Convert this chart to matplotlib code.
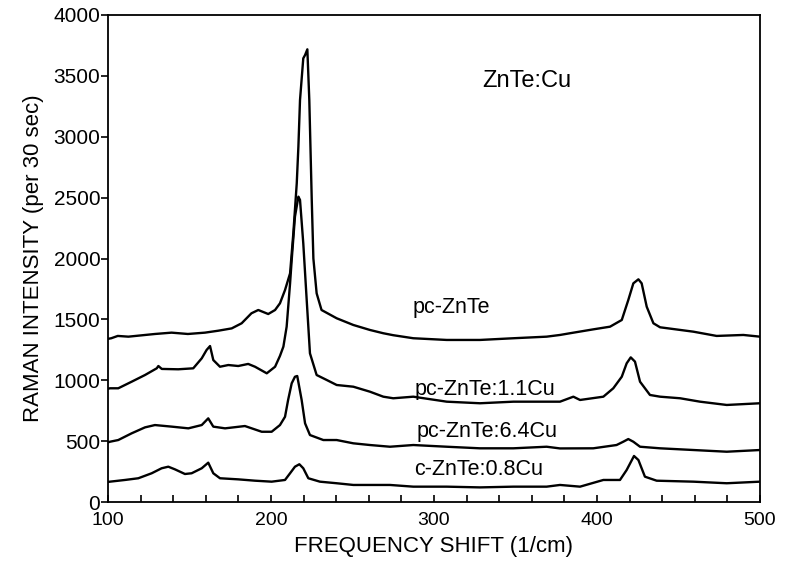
import matplotlib
matplotlib.use("Agg")
import matplotlib.pyplot as plt
from matplotlib.ticker import MultipleLocator

plt.rcParams['font.family'] = ['Liberation Sans', 'DejaVu Sans']

# Raman spectra of ZnTe:Cu films (frequency shift in 1/cm, counts per 30 s)
x_pc = [100, 102, 106, 112.5, 128.8, 139, 149, 159.5, 167.7, 175.9, 182, 188, 192.2,
        198.3, 202.5, 205.5, 208.6, 211.7, 213.7, 215.8, 216.8, 217.8, 219.8, 220.9,
        222.3, 223.5, 225, 226, 228, 231, 240.3, 250.5, 260.7, 268.9, 275, 287.3,
        307.8, 328.2, 348.7, 369.1, 377.3, 383.4, 397.7, 408, 415.2, 419.2, 422.3,
        425.4, 427.4, 430.5, 434.6, 438.7, 459.1, 473.4, 489.8, 500]
y_pc = [1340, 1345, 1364, 1358, 1380, 1391, 1380, 1391, 1407, 1426, 1468, 1550, 1577,
        1544, 1577, 1632, 1741, 1878, 2207, 2618, 2918, 3302, 3644, 3671,
        3718, 3302, 2481, 2000, 1714, 1577, 1509, 1454, 1413, 1386, 1370, 1345,
        1331, 1331, 1345, 1358, 1372, 1386, 1418, 1440, 1495, 1659, 1796,
        1829, 1796, 1604, 1468, 1435, 1399, 1364, 1372, 1358]

x_cu11 = [100, 101.2, 106.3, 114.5, 122.7, 129.9, 130.9, 133, 143.1, 152.3, 157.5, 160.5,
          162.6, 164.6, 168.7, 173.8, 179.9, 186, 190.2, 197.4, 202.5, 205.5, 207.6,
          209.6, 211.7, 212.7, 214.7, 216.8, 217.8, 219.8, 221.9, 223.9, 228, 234.2,
          240.3, 250.5, 260.7, 268.9, 275, 287.3, 307.8, 328.2, 348.7, 369.1, 377.3,
          385.5, 389.6, 403.9, 410, 415.2, 418.2, 420.7, 423.3, 426.4, 432.5, 438.7,
          451, 463.2, 479.6, 500]
y_cu11 = [930, 934, 934, 988, 1043, 1098, 1117, 1093, 1090, 1098, 1180, 1249,
          1281, 1166, 1111, 1125, 1117, 1134, 1111, 1057, 1111, 1200, 1276,
          1440, 1796, 1988, 2344, 2508, 2481, 2125, 1659, 1221, 1043, 1002,
          961, 947, 906, 865, 852, 865, 824, 811, 824, 824, 824,
          865, 838, 865, 934, 1029, 1139, 1188, 1153, 988, 879, 865,
          852, 824, 797, 811]

x_cu64 = [100, 101.2, 106.3, 114.5, 122.7, 128.8, 139.1, 149.3, 157.5, 161.5, 164.6,
          171.8, 184, 194.3, 200.4, 205.5, 208.6, 210.5, 212.7, 214.7, 216.1, 218.8,
          220.9, 223.9, 232.1, 240.3, 250.5, 260.7, 273, 287.3, 307.8, 328.2, 348.7,
          369.1, 377.3, 397.7, 412, 416.1, 419.2, 422.3, 426.4, 438.7, 459.1, 479.6, 500]
y_cu64 = [490, 495, 509, 564, 613, 632, 619, 605, 632, 687, 619,
          605, 624, 577, 577, 632, 700, 838, 975, 1029, 1035, 838,
          646, 550, 509, 509, 482, 468, 454, 468, 454, 441, 441,
          454, 440, 441, 468, 495, 517, 495, 454, 441, 427, 413, 427]

x_c08 = [100, 101.2, 110.4, 118.6, 126.8, 132.9, 137, 141.1, 147.2, 151.3, 157.5, 161.5,
         164.6, 168.7, 179.9, 190.2, 200.4, 208.6, 211.7, 214.7, 217.4, 219.8, 222.9,
         230, 240.3, 250.5, 260.7, 273, 287.3, 307.8, 328.2, 348.7, 369.1, 377.3, 389.6,
         403.9, 414.1, 418.2, 422.7, 425.4, 429.4, 436.6, 459.1, 479.6, 500]
y_c08 = [165, 167, 181, 195, 236, 277, 290, 268, 230, 236, 277, 323,
         236, 195, 186, 175, 167, 181, 236, 290, 310, 277, 195,
         167, 154, 140, 140, 140, 126, 126, 120, 126, 126, 140, 126,
         181, 181, 263, 378, 345, 208, 175, 167, 154, 167]

series = [(x_pc, y_pc), (x_cu11, y_cu11), (x_cu64, y_cu64), (x_c08, y_c08)]

curve_labels = ["pc-ZnTe", "pc-ZnTe:1.1Cu", "pc-ZnTe:6.4Cu", "c-ZnTe:0.8Cu"]
label_x = [287, 288, 289.5, 288]
label_y = [1594, 920, 575, 263]

title_text = "ZnTe:Cu"
x_ticks = [100, 200, 300, 400, 500]
y_ticks = [0, 500, 1000, 1500, 2000, 2500, 3000, 3500, 4000]

fig = plt.figure(figsize=(7.87, 5.62), dpi=100)
ax = fig.add_axes([108 / 787, 60 / 562, (760 - 108) / 787, (502 - 15) / 562])

for xs, ys in series:
    ax.plot(xs, ys, color="black", lw=1.7, solid_joinstyle="round")

for txt, lx, ly in zip(curve_labels, label_x, label_y):
    ax.text(lx, ly, txt, fontsize=15.5, ha="left", va="center")

ax.text(329.4, 3462, title_text, fontsize=17, ha="left", va="center")

ax.set_xlim(100, 500)
ax.set_ylim(0, 4000)
ax.set_xticks(x_ticks)
ax.set_yticks(y_ticks)
ax.xaxis.set_minor_locator(MultipleLocator(20))
ax.tick_params(axis="x", which="both", direction="in", length=5, width=1.2,
               labelsize=14, pad=7, top=False)
ax.tick_params(axis="y", which="both", direction="out", length=5, width=1.2,
               labelsize=15, pad=0.5, right=False)

for sp in ax.spines.values():
    sp.set_linewidth(1.3)

ax.set_xlabel("FREQUENCY SHIFT (1/cm)", fontsize=16, labelpad=5)
ax.set_ylabel("RAMAN INTENSITY (per 30 sec)", fontsize=16, labelpad=7)

fig.savefig("out.png", dpi=100)
